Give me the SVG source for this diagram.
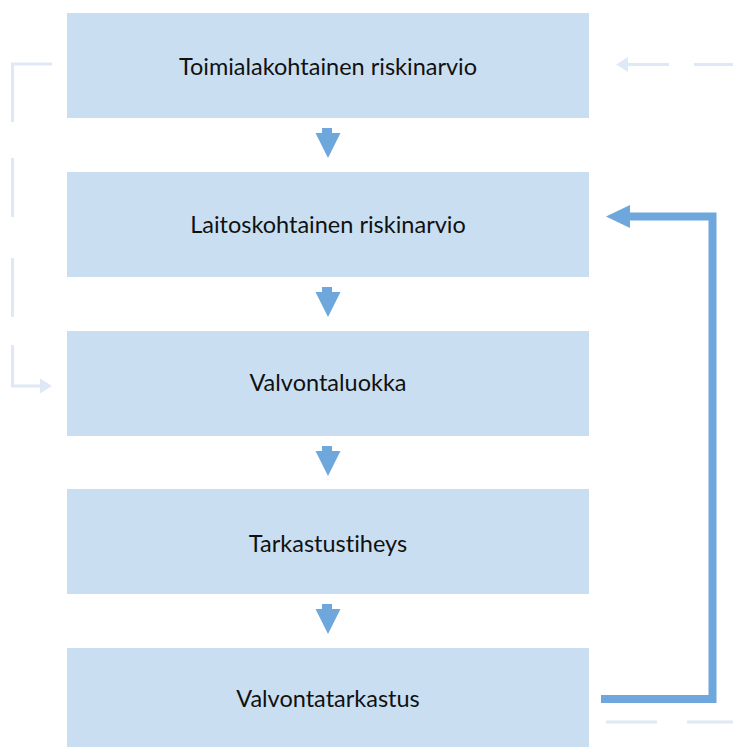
<svg xmlns="http://www.w3.org/2000/svg" width="733" height="747" viewBox="0 0 733 747">
<style>
.box{fill:#c9dff1}
.lbl{font-family:Lato,"Open Sans","Liberation Sans",sans-serif;font-size:23.5px;fill:#111;text-anchor:middle;font-variant-ligatures:none;font-feature-settings:"liga" 0}
.fade{fill:none;stroke:#dfe8f6;stroke-width:3}
.down{fill:#6ea7dc}
</style>
<defs>
<marker id="fh" markerWidth="6" markerHeight="6" refX="2" refY="3" orient="auto" markerUnits="strokeWidth"><path d="M0,0.5 L4,3 L0,5.5 z" fill="#dfe8f6"/></marker>
</defs>
<rect width="733" height="747" fill="#fff"/>
<g id="n1"><rect class="box" x="67" y="13" width="522" height="105"/><text class="lbl" x="328" y="75">Toimialakohtainen riskinarvio</text></g>
<g id="n2"><rect class="box" x="67" y="172" width="522" height="105"/><text class="lbl" x="328" y="233">Laitoskohtainen riskinarvio</text></g>
<g id="n3"><rect class="box" x="67" y="331" width="522" height="105"/><text class="lbl" x="328" y="391">Valvontaluokka</text></g>
<g id="n4"><rect class="box" x="67" y="489" width="522" height="105"/><text class="lbl" x="328" y="552">Tarkastustiheys</text></g>
<g id="n5"><rect class="box" x="67" y="648" width="522" height="105"/><text class="lbl" x="328" y="707">Valvontatarkastus</text></g>
<g id="connectors">
<path class="down" d="M322,128 H332 V133 H340.5 L328,158 L315.5,133 H322 z"/>
<path class="down" d="M322,287 H332 V292 H340.5 L328,317 L315.5,292 H322 z"/>
<path class="down" d="M322,446 H332 V451 H340.5 L328,476 L315.5,451 H322 z"/>
<path class="down" d="M322,604 H332 V609 H340.5 L328,634 L315.5,609 H322 z"/>
<path d="M601,699 H712.5 V216.5 H628" fill="none" stroke="#6ea7dc" stroke-width="8"/>
<path d="M606,216.5 L630,205 V228 z" fill="#6ea7dc"/>
<path class="fade" d="M52,64 H12.5 V122 M12.5,158 V217 M12.5,258 V317 M12.5,345 V386 H46" marker-end="url(#fh)"/>
<path class="fade" d="M733,64.5 H694 M669,64.5 H622" marker-end="url(#fh)"/>
<path class="fade" d="M606,722 H657 M687,722 H733"/>
</g>
</svg>
